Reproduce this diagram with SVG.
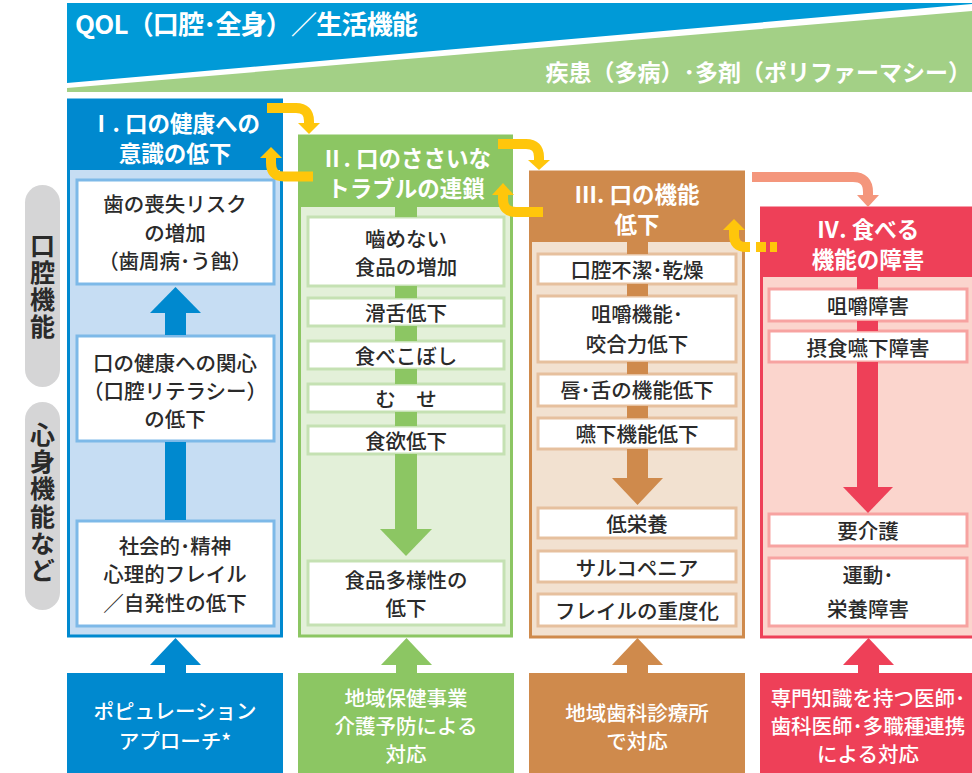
<svg xmlns="http://www.w3.org/2000/svg" width="972" height="773" viewBox="0 0 972 773">
<defs>
<style>
text{font-family:"Noto Sans CJK JP","Noto Sans",sans-serif;dominant-baseline:central;text-anchor:middle}
.t{font-size:20.5px;fill:#2a2a2a;font-weight:500}
.h{font-size:22.5px;fill:#fff;font-weight:700}
.b{font-size:20.5px;fill:#fff;font-weight:500}
.side{font-size:25px;fill:#2a2a2a;font-weight:700;writing-mode:vertical-rl;text-anchor:start;letter-spacing:2.2px}
.ya{fill:none;stroke:#FFC60B;stroke-width:10}
.yh{fill:#FFC60B}
.bx1{fill:#fff;stroke:#7DB9E8;stroke-width:3}
.bx2{fill:#fff;stroke:#C5E1B3;stroke-width:3}
.bx3{fill:#fff;stroke:#E6C09E;stroke-width:3}
.bx4{fill:#fff;stroke:#F7A3A1;stroke-width:3}
</style>
</defs>
<rect width="972" height="773" fill="#fff"/>
<g id="banner">
<polygon points="67,3 972,3 972,4 67,83" fill="#009AD7"/>
<polygon points="67,88 972,11 972,92 67,92" fill="#A3D086"/>
<text x="75" y="22" style="font-size:26px;font-weight:700;fill:#fff;text-anchor:start;letter-spacing:-0.8px">QOL（口腔･全身）／生活機能</text>
<text x="971" y="71" style="font-size:23px;font-weight:700;fill:#fff;text-anchor:end">疾患（多病）･多剤（ポリファーマシー）</text>
</g>
<g id="side-labels">
<rect x="25" y="185" width="35" height="202" rx="17.5" fill="#D5D5D6"/>
<text class="side" x="42.5" y="232.5">口腔機能</text>
<rect x="25" y="402" width="35" height="208" rx="17.5" fill="#D5D5D6"/>
<text class="side" x="42.5" y="422">心身機能など</text>
</g>
<g id="col1">
<rect x="68.5" y="100" width="213" height="536" fill="#C6DDF3" stroke="#0089CF" stroke-width="3"/>
<rect x="67" y="99" width="216" height="71" fill="#0089CF"/>
<text class="h" x="175" y="122">Ⅰ. 口の健康への<tspan x="175" dy="30">意識の低下</tspan></text>
<rect class="bx1" x="77" y="180" width="197" height="104"/>
<text class="t" x="175" y="203">歯の喪失リスク<tspan x="175" dy="29">の増加</tspan><tspan x="175" dy="28">（歯周病･う蝕）</tspan></text>
<rect class="bx1" x="77" y="336" width="197" height="105"/>
<text class="t" x="175" y="362">口の健康への関心<tspan x="175" dy="28">（口腔リテラシー）</tspan><tspan x="175" dy="28">の低下</tspan></text>
<rect class="bx1" x="77" y="521" width="197" height="105"/>
<text class="t" x="175" y="545">社会的･精神<tspan x="175" dy="28">心理的フレイル</tspan><tspan x="175" dy="29">／自発性の低下</tspan></text>
</g>
<g id="col2">
<rect x="299.5" y="136" width="212" height="500" fill="#E3F0D9" stroke="#8CC663" stroke-width="3"/>
<rect x="298" y="135" width="215" height="72" fill="#8CC663"/>
<text class="h" x="406" y="157">Ⅱ. 口のささいな<tspan x="406" dy="30">トラブルの連鎖</tspan></text>
<rect class="bx2" x="308" y="217" width="196" height="69"/>
<text class="t" x="406" y="238">嚙めない<tspan x="406" dy="28">食品の増加</tspan></text>
<rect class="bx2" x="308" y="298" width="196" height="28"/>
<text class="t" x="406" y="312">滑舌低下</text>
<rect class="bx2" x="308" y="341" width="196" height="28"/>
<text class="t" x="406" y="355">食べこぼし</text>
<rect class="bx2" x="308" y="384" width="196" height="28"/>
<text class="t" x="406" y="398">む　せ</text>
<rect class="bx2" x="308" y="426" width="196" height="28"/>
<text class="t" x="406" y="440">食欲低下</text>
<rect class="bx2" x="308" y="561" width="196" height="64"/>
<text class="t" x="406" y="579">食品多様性の<tspan x="406" dy="28">低下</tspan></text>
</g>
<g id="col3">
<rect x="530.5" y="172" width="213" height="465" fill="#F2E1D0" stroke="#CF8A4C" stroke-width="3"/>
<rect x="529" y="171" width="216" height="71" fill="#CF8A4C"/>
<text class="h" x="637" y="192.5">Ⅲ. 口の機能<tspan x="637" dy="30">低下</tspan></text>
<rect class="bx3" x="538" y="254" width="198" height="30"/>
<text class="t" x="637" y="269">口腔不潔･乾燥</text>
<rect class="bx3" x="538" y="296" width="198" height="66"/>
<text class="t" x="637" y="313">咀嚼機能･<tspan x="637" dy="30">咬合力低下</tspan></text>
<rect class="bx3" x="538" y="374" width="198" height="32"/>
<text class="t" x="637" y="389">唇･舌の機能低下</text>
<rect class="bx3" x="538" y="418" width="198" height="31"/>
<text class="t" x="637" y="433">嚥下機能低下</text>
<rect class="bx3" x="538" y="508" width="198" height="30"/>
<text class="t" x="637" y="523">低栄養</text>
<rect class="bx3" x="538" y="551" width="198" height="31"/>
<text class="t" x="637" y="567">サルコペニア</text>
<rect class="bx3" x="538" y="594" width="198" height="32"/>
<text class="t" x="637" y="610">フレイルの重度化</text>
</g>
<g id="col4">
<rect x="761.5" y="208" width="214" height="429" fill="#FBD5CD" stroke="#EE4058" stroke-width="3"/>
<rect x="760" y="207" width="212" height="70" fill="#EE4058"/>
<text class="h" x="868" y="227.5">Ⅳ. 食べる<tspan x="868" dy="30">機能の障害</tspan></text>
<rect class="bx4" x="769" y="289" width="198" height="32"/>
<text class="t" x="868" y="305">咀嚼障害</text>
<rect class="bx4" x="769" y="331" width="198" height="31"/>
<text class="t" x="868" y="347">摂食嚥下障害</text>
<rect class="bx4" x="769" y="514" width="198" height="32"/>
<text class="t" x="868" y="530">要介護</text>
<rect class="bx4" x="769" y="558" width="198" height="68"/>
<text class="t" x="868" y="574">運動･<tspan x="868" dy="34">栄養障害</tspan></text>
</g>
<g id="bottom1">
<rect x="67" y="673" width="216" height="100" fill="#0089CF"/>
<text class="b" x="175" y="710">ポピュレーション<tspan x="175" dy="30">アプローチ*</tspan></text>
</g>
<g id="bottom2">
<rect x="298" y="673" width="216" height="100" fill="#8CC663"/>
<text class="b" x="406" y="697">地域保健事業<tspan x="406" dy="28">介護予防による</tspan><tspan x="406" dy="28">対応</tspan></text>
</g>
<g id="bottom3">
<rect x="529" y="673" width="216" height="100" fill="#CF8A4C"/>
<text class="b" x="637" y="712">地域歯科診療所<tspan x="637" dy="28">で対応</tspan></text>
</g>
<g id="bottom4">
<rect x="760" y="673" width="212" height="100" fill="#EE4058"/>
<text class="b" x="868" y="697">専門知識を持つ医師･<tspan x="868" dy="28">歯科医師･多職種連携</tspan><tspan x="868" dy="28">による対応</tspan></text>
</g>
<g id="connectors">
<rect x="165" y="313" width="21" height="22" fill="#0089CF"/>
<rect x="165" y="442" width="21" height="78" fill="#0089CF"/>
<polygon points="150,313 201,313 175.5,287" fill="#0089CF"/>
<g fill="#8CC663">
<rect x="395" y="207" width="22" height="10"/>
<rect x="395" y="286" width="22" height="12"/>
<rect x="395" y="326" width="22" height="15"/>
<rect x="395" y="369" width="22" height="15"/>
<rect x="395" y="412" width="22" height="14"/>
<rect x="395" y="454" width="22" height="76"/>
<polygon points="380,529 432,529 406,556"/>
</g>
<g fill="#CF8A4C">
<rect x="627" y="242" width="21" height="12"/>
<rect x="627" y="284" width="21" height="12"/>
<rect x="627" y="362" width="21" height="12"/>
<rect x="627" y="406" width="21" height="12"/>
<rect x="627" y="449" width="21" height="30"/>
<polygon points="612,478 663,478 637.5,505"/>
</g>
<g fill="#EE4058">
<rect x="857" y="277" width="21" height="12"/>
<rect x="857" y="321" width="21" height="10"/>
<rect x="857" y="362" width="21" height="126"/>
<polygon points="843,487 893,487 868,513"/>
</g>
<g>
<rect x="165" y="664" width="21" height="10" fill="#0089CF"/>
<polygon points="150,665 201,665 175.5,638" fill="#0089CF"/>
<rect x="396" y="664" width="21" height="10" fill="#8CC663"/>
<polygon points="381,665 432,665 406.5,638" fill="#8CC663"/>
<rect x="627" y="664" width="21" height="10" fill="#CF8A4C"/>
<polygon points="612,665 663,665 637.5,638" fill="#CF8A4C"/>
<rect x="858" y="664" width="21" height="10" fill="#EE4058"/>
<polygon points="843,665 894,665 868.5,638" fill="#EE4058"/>
</g>
<path class="ya" d="M267,108 H296 Q309,108 309,121 V124"/>
<polygon class="yh" points="298,123 320,123 309,134"/>
<path class="ya" d="M313,176.5 H284 Q271,176.5 271,163 V157"/>
<polygon class="yh" points="260,158 282,158 271,147"/>
<path class="ya" d="M498,144 H526 Q539,144 539,157 V161"/>
<polygon class="yh" points="528,160 550,160 539,170"/>
<path class="ya" d="M543,212 H516 Q503,212 503,199 V194"/>
<polygon class="yh" points="492,195 514,195 503,183"/>
<path class="ya" d="M750,247 H746 Q734,247 734,235 V229"/>
<polygon class="yh" points="723,230 745,230 734,219"/>
<rect class="yh" x="756" y="242" width="10" height="10"/>
<rect class="yh" x="770" y="242" width="7" height="10"/>
<path d="M752,177 H853 Q868,177 868,192 V196" fill="none" stroke="#F4967C" stroke-width="10"/>
<polygon points="857,195 879,195 868,207" fill="#F4967C"/>
</g>
</svg>
